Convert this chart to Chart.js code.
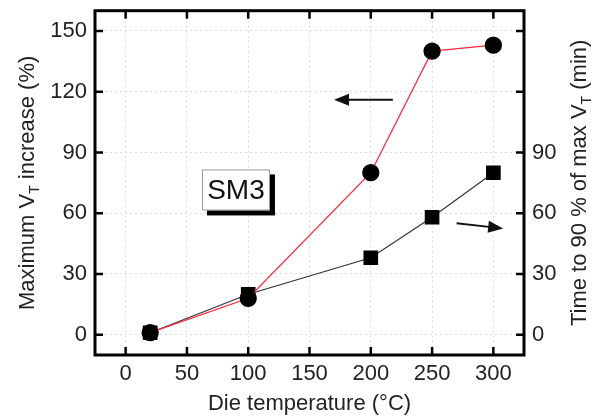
<!DOCTYPE html>
<html>
<head>
<meta charset="utf-8">
<script src="https://cdn.jsdelivr.net/npm/chart.js@4.4.0/dist/chart.umd.min.js"></script>
<style>
  body { margin: 0; background: #fff; }
  canvas { display: block; }
</style>
</head>
<body>
<canvas id="chart" width="596" height="417"></canvas>
<script>
// Data
const temps = [20, 100, 200, 250, 300];          // die temperature (°C)
const maxIncrease = [1, 18, 80, 140, 143];       // max VT increase (%) - left axis
const timeTo90 = [1, 20, 38, 58, 80];            // time to 90 % of max VT (min) - right axis

const xTicks = [0, 50, 100, 150, 200, 250, 300];
const leftTicks = [0, 30, 60, 90, 120, 150];
const rightTicks = [0, 30, 60, 90, 120, 150];
const rightLabels = ['0', '30', '60', '90', '', ''];

const fontFamily = '"Liberation Sans", Arial, sans-serif';
const textColor = '#222';

// annotations (in data units: x = temperature, y = left axis)
const leftArrow = { from: [218, 116], to: [170, 116] };
const rightArrow = { from: [270, 55], to: [308, 52.5] };
const labelBox = { text: 'SM3', at: [90, 71.5] };

function setTicks(values) {
    return function (scale) {
        scale.ticks = values.map(v => ({ value: v }));
    };
}

function drawArrow(ctx, x1, y1, x2, y2) {
    const ang = Math.atan2(y2 - y1, x2 - x1);
    const head = 15, half = 6;
    ctx.beginPath();
    ctx.moveTo(x1, y1);
    ctx.lineTo(x2 - Math.cos(ang) * head * 0.8, y2 - Math.sin(ang) * head * 0.8);
    ctx.lineWidth = 2;
    ctx.strokeStyle = '#111';
    ctx.stroke();
    ctx.beginPath();
    ctx.moveTo(x2, y2);
    ctx.lineTo(x2 - Math.cos(ang) * head - Math.sin(ang) * half, y2 - Math.sin(ang) * head + Math.cos(ang) * half);
    ctx.lineTo(x2 - Math.cos(ang) * head + Math.sin(ang) * half, y2 - Math.sin(ang) * head - Math.cos(ang) * half);
    ctx.closePath();
    ctx.fillStyle = '#111';
    ctx.fill();
}

// text with a subscript part, centered on the current origin
function drawSubText(ctx, parts) {
    const big = '22px ' + fontFamily, small = '14px ' + fontFamily;
    let total = 0;
    parts.forEach(p => { ctx.font = p[1] ? small : big; total += ctx.measureText(p[0]).width; });
    let x = -total / 2;
    ctx.textBaseline = 'middle';
    ctx.textAlign = 'left';
    ctx.fillStyle = textColor;
    parts.forEach(p => {
        ctx.font = p[1] ? small : big;
        ctx.fillText(p[0], x, p[1] ? 7 : 0);
        x += ctx.measureText(p[0]).width;
    });
}

const framePlugin = {
    id: 'frame',
    afterDraw(chart) {
        const ctx = chart.ctx;
        const a = chart.chartArea;
        const xs = chart.scales.x, ys = chart.scales.y, ys2 = chart.scales.y2;
        ctx.save();

        // inward ticks
        ctx.strokeStyle = '#000';
        ctx.lineWidth = 2.5;
        const tl = 8;
        ctx.beginPath();
        xTicks.forEach(v => {
            const px = xs.getPixelForValue(v);
            ctx.moveTo(px, a.bottom); ctx.lineTo(px, a.bottom - tl);
            ctx.moveTo(px, a.top); ctx.lineTo(px, a.top + tl);
        });
        leftTicks.forEach(v => {
            const py = ys.getPixelForValue(v);
            ctx.moveTo(a.left, py); ctx.lineTo(a.left + tl, py);
        });
        rightTicks.forEach(v => {
            const py = ys2.getPixelForValue(v);
            ctx.moveTo(a.right, py); ctx.lineTo(a.right - tl, py);
        });
        ctx.stroke();

        // frame
        ctx.lineWidth = 3;
        ctx.strokeRect(a.left, a.top, a.right - a.left, a.bottom - a.top);

        // arrows
        drawArrow(ctx, xs.getPixelForValue(leftArrow.from[0]), ys.getPixelForValue(leftArrow.from[1]),
            xs.getPixelForValue(leftArrow.to[0]), ys.getPixelForValue(leftArrow.to[1]));
        drawArrow(ctx, xs.getPixelForValue(rightArrow.from[0]), ys.getPixelForValue(rightArrow.from[1]),
            xs.getPixelForValue(rightArrow.to[0]), ys.getPixelForValue(rightArrow.to[1]));

        // SM3 label box with shadow
        const cx = xs.getPixelForValue(labelBox.at[0]), cy = ys.getPixelForValue(labelBox.at[1]);
        const w = 68, h = 41;
        ctx.fillStyle = '#000';
        ctx.fillRect(cx - w / 2 + 5, cy - h / 2 + 5, w, h);
        ctx.fillStyle = '#fff';
        ctx.fillRect(cx - w / 2, cy - h / 2, w, h);
        ctx.lineWidth = 1;
        ctx.strokeStyle = '#999';
        ctx.strokeRect(cx - w / 2 + 0.5, cy - h / 2 + 0.5, w - 1, h - 1);
        ctx.fillStyle = '#111';
        ctx.font = '28px ' + fontFamily;
        ctx.textAlign = 'center';
        ctx.textBaseline = 'middle';
        ctx.fillText(labelBox.text, cx, cy + 1);

        // y axis titles with subscript
        const midY = (a.top + a.bottom) / 2;
        ctx.save();
        ctx.translate(28, midY);
        ctx.rotate(-Math.PI / 2);
        drawSubText(ctx, [['Maximum V', false], ['T', true], [' increase (%)', false]]);
        ctx.restore();

        ctx.save();
        ctx.translate(580, midY);
        ctx.rotate(-Math.PI / 2);
        drawSubText(ctx, [['Time to 90 % of max V', false], ['T', true], [' (min)', false]]);
        ctx.restore();

        ctx.restore();
    }
};

const tickFont = { family: fontFamily, size: 22 };

new Chart(document.getElementById('chart').getContext('2d'), {
    type: 'line',
    data: {
        datasets: [{
            label: 'Maximum VT increase',
            data: temps.map((t, i) => ({ x: t, y: maxIncrease[i] })),
            yAxisID: 'y',
            borderColor: '#ff2a3c',
            borderWidth: 1.3,
            tension: 0,
            pointStyle: 'circle',
            pointRadius: 8,
            pointBackgroundColor: '#000',
            pointBorderColor: '#000',
            order: 0
        }, {
            label: 'Time to 90 % of max VT',
            data: temps.map((t, i) => ({ x: t, y: timeTo90[i] })),
            yAxisID: 'y2',
            borderColor: '#333',
            borderWidth: 1.2,
            tension: 0,
            pointStyle: 'rect',
            pointRadius: 9.5,
            pointBackgroundColor: '#000',
            pointBorderColor: '#000',
            order: 1
        }]
    },
    options: {
        responsive: false,
        animation: false,
        layout: { padding: { top: 10, left: 0, right: 0, bottom: 0 } },
        plugins: {
            legend: { display: false },
            tooltip: { enabled: false }
        },
        scales: {
            x: {
                type: 'linear',
                min: -25,
                max: 325,
                afterBuildTicks: setTicks(xTicks),
                afterFit: s => { s.height = 62; s.paddingLeft = 0; s.paddingRight = 0; },
                ticks: { font: tickFont, color: textColor, padding: 6 },
                grid: { color: '#dcdcdc', drawTicks: false, borderDash: [2, 3] },
                border: { display: false, dash: [2, 3] },
                title: {
                    display: true,
                    text: 'Die temperature (°C)',
                    font: { family: fontFamily, size: 22 },
                    color: textColor,
                    padding: { top: 0, bottom: 0 }
                }
            },
            y: {
                position: 'left',
                min: -10,
                max: 160,
                afterBuildTicks: setTicks(leftTicks),
                afterFit: s => { s.width = 95; s.paddingTop = 0; s.paddingBottom = 0; },
                ticks: { font: tickFont, color: textColor, padding: 8 },
                grid: { color: '#dcdcdc', drawTicks: false, borderDash: [2, 3] },
                border: { display: false, dash: [2, 3] }
            },
            y2: {
                position: 'right',
                min: -10,
                max: 160,
                afterBuildTicks: setTicks(rightTicks),
                afterFit: s => { s.width = 72; s.paddingTop = 0; s.paddingBottom = 0; },
                ticks: {
                    font: tickFont,
                    color: textColor,
                    padding: 8,
                    callback: (v, i) => rightLabels[i]
                },
                grid: { display: false, drawTicks: false },
                border: { display: false }
            }
        }
    },
    plugins: [framePlugin]
});
</script>
</body>
</html>
